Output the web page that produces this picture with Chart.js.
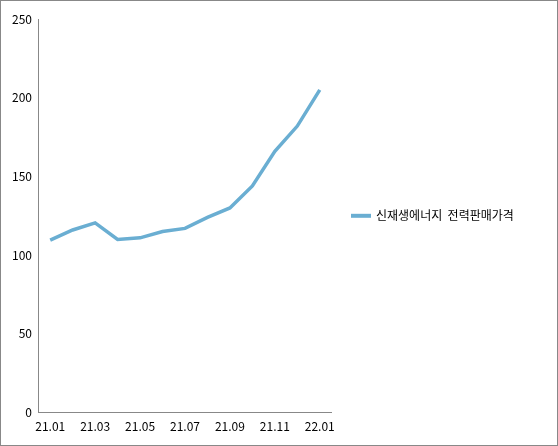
<!DOCTYPE html>
<html><head><meta charset="utf-8">
<script src="https://cdn.jsdelivr.net/npm/chart.js@4"></script>
<style>
html,body{margin:0;padding:0;background:#fff;}
#w{position:absolute;left:0;top:0;width:556px;height:444px;border:1px solid #888;}
</style></head><body>
<div id="w"><canvas id="c"></canvas></div>
<script>
const categories=['21.01','21.02','21.03','21.04','21.05','21.06','21.07','21.08','21.09','21.10','21.11','21.12','22.01'];
const values=[109.5,116,120.5,110,111,115,117,124,130,144,166,182,205];
const seriesName='신재생에너지  전력판매가격';
Chart.defaults.font.family='"Noto Sans CJK KR","DejaVu Sans",sans-serif';
Chart.defaults.font.size=12;
Chart.defaults.color='#000';
const legendPlugin={id:'customLegend',afterDraw(chart){
  const ctx=chart.ctx;const ds=chart.data.datasets[0];
  const y=(chart.chartArea.top+chart.chartArea.bottom)/2;
  ctx.save();ctx.strokeStyle=ds.borderColor;ctx.lineWidth=4;
  ctx.beginPath();ctx.moveTo(350,y);ctx.lineTo(370,y);ctx.stroke();
  ctx.fillStyle='#000';ctx.font='12px "Noto Sans CJK KR",sans-serif';ctx.textBaseline='middle';
  ctx.fillText(ds.label,375,y);ctx.restore();}};
new Chart(document.getElementById('c'),{
type:'line',
data:{labels:categories,datasets:[{label:seriesName,data:values,borderColor:'#6aaed2',backgroundColor:'#6aaed2',borderWidth:3.5,pointRadius:0,tension:0}]},
plugins:[legendPlugin],
options:{responsive:true,maintainAspectRatio:false,animation:false,
layout:{padding:{left:8,top:18,right:226,bottom:8}},
plugins:{legend:{display:false},tooltip:{enabled:false}},
scales:{
x:{offset:true,grid:{display:false,tickLength:4},border:{color:'#888'},
ticks:{autoSkip:false,maxRotation:0,callback:function(v,i){return i%2===0?categories[i]:'';}}},
y:{min:0,max:250,grid:{display:false,tickLength:4},border:{color:'#888'},ticks:{stepSize:50}}
}}});
</script></body></html>
